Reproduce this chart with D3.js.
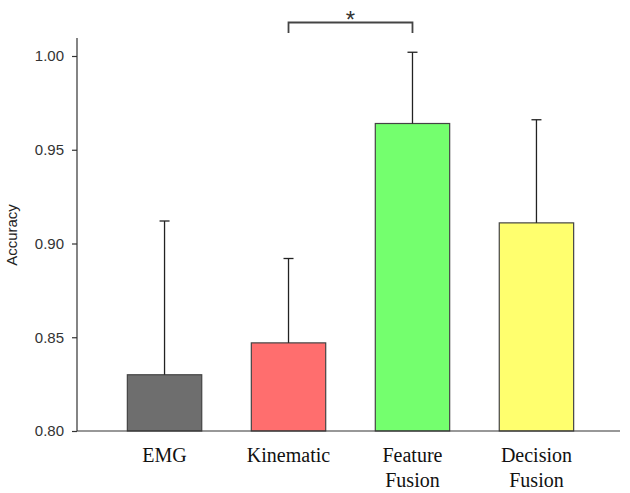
<!DOCTYPE html>
<html>
<head>
<meta charset="utf-8">
<script src="https://cdn.jsdelivr.net/npm/d3@7"></script>
<style>
  html, body { margin: 0; padding: 0; background: #fff; }
  svg { display: block; }
</style>
</head>
<body>
<svg id="chart" width="630" height="493"></svg>
<script>
const categories = [["EMG"], ["Kinematic"], ["Feature", "Fusion"], ["Decision", "Fusion"]];
const means = [0.830, 0.847, 0.964, 0.911];
const errorTops = [0.912, 0.892, 1.002, 0.966];
const colors = ["#6e6e6e", "#ff6e6e", "#74ff6e", "#ffff6e"];
const yTicks = [0.80, 0.85, 0.90, 0.95, 1.00];
const sigPair = [1, 2];
const sigLabel = "*";

const svg = d3.select("#chart");
const x = d3.scaleBand().domain(d3.range(categories.length)).range([79, 622]).paddingInner(0.4).paddingOuter(0.39);
const y = d3.scaleLinear().domain([0.80, 1.00]).range([431, 56]);

// bars
svg.selectAll("rect.bar").data(means).join("rect")
  .attr("class", "bar")
  .attr("x", (d, i) => x(i))
  .attr("y", d => y(d))
  .attr("width", x.bandwidth())
  .attr("height", d => y(0.80) - y(d))
  .attr("fill", (d, i) => colors[i])
  .attr("stroke", "#444")
  .attr("stroke-width", 1.2);

// error bars
const cx = i => x(i) + x.bandwidth() / 2;
svg.selectAll("line.err").data(errorTops).join("line")
  .attr("class", "err")
  .attr("x1", (d, i) => cx(i)).attr("x2", (d, i) => cx(i))
  .attr("y1", (d, i) => y(means[i])).attr("y2", d => y(d))
  .attr("stroke", "#222").attr("stroke-width", 1.3);
svg.selectAll("line.cap").data(errorTops).join("line")
  .attr("class", "cap")
  .attr("x1", (d, i) => cx(i) - 5).attr("x2", (d, i) => cx(i) + 5)
  .attr("y1", d => y(d)).attr("y2", d => y(d))
  .attr("stroke", "#222").attr("stroke-width", 1.3);

// y axis
const yAxis = d3.axisLeft(y).tickValues(yTicks).tickFormat(d3.format(".2f")).tickSize(5).tickPadding(8);
const gy = svg.append("g").attr("transform", "translate(77,0)").call(yAxis);
gy.select(".domain").remove();
gy.append("line").attr("x1", 0).attr("x2", 0).attr("y1", 38).attr("y2", 431).attr("stroke", "#333").attr("stroke-width", 1.2);
gy.selectAll(".tick line").attr("stroke", "#333").attr("stroke-width", 1.2);
gy.selectAll(".tick text").attr("fill", "#333").style("font-family", "'Liberation Sans', Arial, sans-serif").style("font-size", "15px");

// x axis line
svg.append("line").attr("x1", 77).attr("x2", 620).attr("y1", y(0.80)).attr("y2", y(0.80))
  .attr("stroke", "#333").attr("stroke-width", 1.2);

// category labels
const lab = svg.selectAll("text.cat").data(categories).join("text")
  .attr("class", "cat")
  .attr("text-anchor", "middle")
  .attr("fill", "#111")
  .style("font-family", "'Liberation Serif', 'Times New Roman', serif")
  .style("font-size", "20px");
lab.each(function(d, i) {
  d3.select(this).selectAll("tspan").data(d).join("tspan")
    .attr("x", cx(i))
    .attr("y", (t, j) => 462 + j * 25)
    .text(t => t);
});

// y label
svg.append("text")
  .attr("transform", "translate(17,235) rotate(-90)")
  .attr("text-anchor", "middle")
  .attr("fill", "#222")
  .style("font-family", "'Liberation Sans', Arial, sans-serif")
  .style("font-size", "15px")
  .text("Accuracy");

// significance bracket
const bx1 = cx(sigPair[0]), bx2 = cx(sigPair[1]);
svg.append("path")
  .attr("d", `M${bx1},33 V22.5 H${bx2} V33`)
  .attr("fill", "none").attr("stroke", "#444").attr("stroke-width", 1.8);
svg.append("text")
  .attr("x", (bx1 + bx2) / 2).attr("y", 28)
  .attr("text-anchor", "middle")
  .attr("fill", "#333")
  .style("font-family", "'Liberation Sans', Arial, sans-serif")
  .style("font-size", "24px")
  .text(sigLabel);
</script>
</body>
</html>
